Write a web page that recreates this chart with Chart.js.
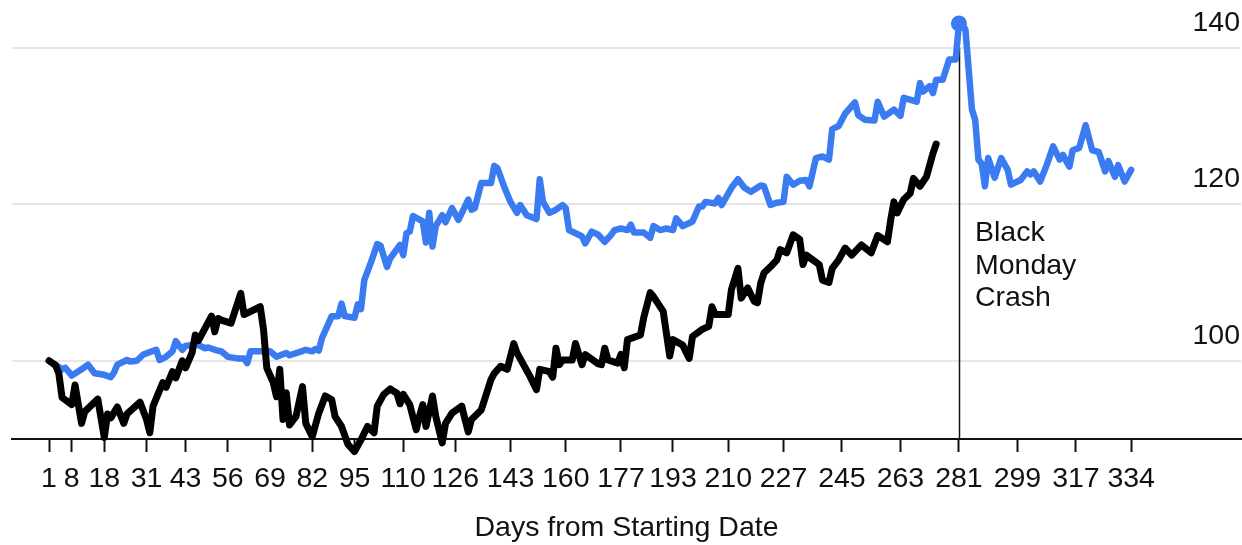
<!DOCTYPE html>
<html>
<head>
<meta charset="utf-8">
<script src="https://cdn.jsdelivr.net/npm/chart.js@4.4.0/dist/chart.umd.min.js"></script>
<style>
  html, body { margin: 0; padding: 0; background: #ffffff; }
  #wrap { width: 1242px; height: 545px; }
</style>
</head>
<body>
<div id="wrap"><canvas id="chart" width="1242" height="545"></canvas></div>
<script>
// Tick positions on the day axis and the reference levels on the index axis
const tickDays = [1, 8, 18, 31, 43, 56, 69, 82, 95, 110, 126, 143, 160, 177, 193, 210, 227, 245, 263, 281, 299, 317, 334];
const gridValues = [100, 120, 140];

// 1987 path (blue), indexed to 100 at the starting date
const blueDays = [1, 3, 5, 6, 8, 11, 13, 15, 18, 20, 21, 22, 25, 26, 28, 30, 32, 34, 35, 37, 39, 40, 42, 43, 45, 47, 49, 50, 52, 54, 56, 59, 61, 62, 63, 66, 69, 71, 74, 75, 78, 80, 82, 83, 84, 85, 88, 90, 91, 92, 95, 96, 97, 98, 100, 102, 103, 105, 106, 109, 110, 111, 112, 113, 116, 117, 118, 119, 120, 122, 123, 125, 127, 130, 131, 132, 134, 137, 138, 139, 141, 143, 145, 146, 148, 151, 152, 153, 155, 157, 159, 160, 161, 164, 165, 166, 168, 170, 172, 174, 175, 177, 179, 180, 181, 184, 186, 187, 189, 191, 193, 194, 196, 199, 201, 202, 203, 206, 207, 208, 211, 213, 215, 217, 220, 221, 223, 225, 227, 228, 230, 232, 234, 235, 237, 239, 241, 242, 244, 246, 249, 250, 252, 255, 256, 258, 261, 263, 264, 268, 269, 270, 272, 273, 274, 276, 278, 280, 281, 282, 283, 285, 286, 287, 288, 289, 290, 292, 294, 296, 297, 299, 300, 302, 303, 304, 306, 308, 310, 312, 313, 315, 316, 318, 320, 322, 324, 326, 327, 329, 330, 332, 334];
const blueValues = [100.0, 99.5, 98.9, 99.1, 98.1, 98.9, 99.5, 98.4, 98.2, 97.9, 98.5, 99.5, 100.1, 99.9, 100.0, 100.8, 101.1, 101.4, 100.1, 100.5, 101.2, 102.5, 101.4, 101.9, 102.0, 102.0, 101.6, 101.7, 101.4, 101.2, 100.5, 100.3, 100.3, 99.7, 101.2, 101.2, 101.2, 100.5, 101.0, 100.7, 101.1, 101.4, 101.2, 101.5, 101.3, 102.9, 105.7, 105.7, 107.3, 105.7, 105.5, 107.2, 106.6, 110.3, 112.5, 114.9, 114.7, 112.0, 113.1, 114.8, 113.5, 116.3, 116.5, 118.5, 117.8, 115.1, 118.9, 114.6, 117.2, 118.6, 117.7, 119.5, 118.0, 120.6, 119.3, 119.5, 122.7, 122.7, 124.9, 124.6, 122.3, 120.3, 118.9, 119.9, 118.6, 118.1, 123.2, 120.3, 118.9, 119.3, 119.9, 119.5, 116.7, 116.1, 115.9, 115.0, 116.5, 116.1, 115.2, 116.1, 116.7, 116.9, 116.7, 117.4, 116.4, 116.4, 115.7, 117.2, 116.7, 116.9, 116.7, 118.2, 117.2, 117.8, 119.7, 119.7, 120.3, 120.1, 120.8, 119.9, 122.1, 123.2, 122.1, 121.6, 122.4, 122.3, 119.9, 120.2, 120.3, 123.5, 122.5, 123.0, 123.1, 122.3, 125.9, 126.1, 125.7, 129.6, 130.0, 131.6, 133.0, 131.4, 130.8, 130.7, 133.1, 131.2, 132.1, 131.3, 133.6, 133.1, 135.5, 134.4, 135.1, 134.2, 135.9, 135.9, 138.5, 138.5, 143.1, 143.1, 142.3, 132.1, 130.8, 125.7, 125.2, 122.3, 125.9, 123.4, 125.9, 124.4, 122.5, 122.9, 123.1, 124.2, 123.8, 124.2, 122.9, 125.0, 127.4, 125.7, 126.3, 124.8, 126.9, 127.2, 130.1, 126.9, 126.7, 124.2, 125.5, 123.5, 125.0, 122.9, 124.4];

// Current path (black), indexed to 100 at the starting date
const blackDays = [1, 3, 4, 5, 8, 9, 11, 12, 16, 18, 19, 20, 22, 24, 25, 29, 31, 32, 33, 36, 37, 39, 40, 42, 43, 45, 46, 47, 51, 52, 53, 54, 57, 60, 61, 66, 67, 68, 70, 71, 72, 73, 74, 75, 77, 79, 80, 82, 84, 86, 88, 89, 91, 93, 95, 97, 99, 101, 102, 104, 106, 107, 108, 109, 110, 112, 114, 115, 116, 117, 119, 120, 122, 123, 125, 128, 129, 130, 131, 134, 135, 137, 138, 140, 142, 144, 145, 149, 151, 152, 155, 156, 157, 158, 159, 162, 163, 165, 166, 170, 171, 172, 173, 176, 177, 178, 179, 183, 184, 186, 187, 190, 192, 193, 196, 198, 199, 202, 204, 205, 206, 210, 211, 213, 214, 216, 218, 219, 220, 221, 223, 225, 226, 228, 230, 232, 233, 234, 236, 238, 239, 241, 242, 244, 246, 248, 251, 254, 256, 259, 260, 261, 262, 264, 266, 267, 269, 271, 272, 273, 274];
const blackValues = [100.0, 99.4, 98.4, 95.3, 94.4, 96.9, 92.0, 93.5, 95.1, 90.2, 93.2, 92.7, 94.1, 92.0, 93.2, 94.7, 92.5, 90.8, 94.2, 97.2, 96.6, 98.6, 97.8, 100.0, 99.1, 101.0, 103.3, 102.6, 105.7, 103.7, 105.4, 105.2, 104.8, 108.6, 105.9, 106.9, 104.0, 99.1, 97.2, 95.4, 98.9, 92.5, 95.9, 91.8, 92.9, 96.7, 92.0, 90.3, 93.3, 95.5, 95.0, 92.9, 91.6, 89.3, 88.4, 89.9, 91.6, 90.8, 94.2, 95.7, 96.4, 96.1, 95.9, 94.5, 95.7, 94.4, 91.2, 92.9, 94.4, 91.6, 95.5, 92.9, 89.5, 92.0, 93.3, 94.2, 92.5, 90.9, 92.5, 93.7, 95.0, 97.6, 98.4, 99.3, 98.9, 102.2, 101.0, 98.0, 96.3, 98.9, 98.6, 97.9, 101.6, 99.5, 100.1, 100.1, 102.2, 99.5, 100.8, 99.6, 99.5, 101.6, 100.1, 99.7, 100.8, 99.1, 102.7, 103.3, 105.5, 108.7, 108.2, 106.3, 100.6, 102.7, 102.0, 100.3, 103.1, 104.0, 104.4, 106.9, 105.9, 105.9, 109.1, 111.8, 108.0, 109.3, 107.6, 107.4, 109.9, 111.2, 112.0, 112.9, 114.2, 113.8, 116.1, 115.5, 112.3, 113.5, 112.9, 112.3, 110.3, 110.0, 111.8, 112.9, 114.4, 113.5, 114.8, 113.8, 116.0, 115.2, 118.0, 120.3, 118.9, 120.6, 121.4, 123.3, 122.3, 123.5, 125.0, 126.5, 127.7];

const peakDay = 281;
const crashDay = 281;
const crashLabel = ['Black', 'Monday', 'Crash'];
const axisTitle = 'Days from Starting Date';

const FONT = '"Liberation Sans", Arial, Helvetica, sans-serif';
const FONT_SIZE = 28.5;
const BLUE = '#3a7bf2';
const INK = '#111111';

function toPoints(days, values) {
  return days.map((d, i) => ({ x: d, y: values[i] }));
}

// Reference level labels sitting just above each gridline, plus the crash marker
const overlayPlugin = {
  id: 'overlay',
  beforeDatasetsDraw(chart) {
    const { ctx, scales: { x, y }, chartArea } = chart;
    const cx = Math.round(x.getPixelForValue(crashDay)) + 0.5;
    ctx.save();
    ctx.strokeStyle = INK;
    ctx.lineWidth = 1.5;
    ctx.beginPath();
    ctx.moveTo(cx, y.getPixelForValue(140));
    ctx.lineTo(cx, chartArea.bottom);
    ctx.stroke();
    ctx.restore();
  },
  afterDatasetsDraw(chart) {
    const { ctx, scales: { x, y }, chartArea } = chart;
    ctx.save();
    ctx.fillStyle = INK;
    ctx.font = FONT_SIZE + 'px ' + FONT;
    ctx.textAlign = 'right';
    ctx.textBaseline = 'middle';
    gridValues.forEach(v => {
      ctx.fillText(String(v), chartArea.right - 1, y.getPixelForValue(v) - 25);
    });
    ctx.textAlign = 'left';
    const tx = x.getPixelForValue(crashDay) + 16;
    const ty = y.getPixelForValue(120) + 29;
    crashLabel.forEach((line, i) => ctx.fillText(line, tx, ty + i * 32.5));
    ctx.restore();
  }
};

new Chart(document.getElementById('chart'), {
  type: 'line',
  data: {
    datasets: [
      {
        label: 'Current',
        data: toPoints(blackDays, blackValues),
        borderColor: '#000000',
        borderWidth: 7,
        pointRadius: 0,
        tension: 0,
        borderJoinStyle: 'round',
        borderCapStyle: 'round',
        clip: false,
        order: 0
      },
      {
        label: '1987',
        data: toPoints(blueDays, blueValues),
        borderColor: BLUE,
        backgroundColor: BLUE,
        borderWidth: 6.5,
        pointRadius: ctx => (blueDays[ctx.dataIndex] === peakDay ? 8 : 0),
        pointBackgroundColor: BLUE,
        pointBorderWidth: 0,
        tension: 0,
        borderJoinStyle: 'round',
        borderCapStyle: 'round',
        clip: false,
        order: 1
      }
    ]
  },
  options: {
    responsive: false,
    animation: false,
    events: [],
    layout: { padding: { left: 12, right: 1, top: 0, bottom: 0 } },
    plugins: { legend: { display: false }, tooltip: { enabled: false } },
    scales: {
      x: {
        type: 'linear',
        min: -10.4,
        max: 367.8,
        afterBuildTicks: s => { s.ticks = tickDays.map(v => ({ value: v })); },
        afterFit: s => { s.height = 106; },
        ticks: {
          autoSkip: false,
          maxRotation: 0,
          color: INK,
          padding: 10,
          font: { family: FONT, size: FONT_SIZE },
          callback: v => String(v)
        },
        grid: { drawOnChartArea: false, tickLength: 13, tickWidth: 2, tickColor: INK },
        border: { color: INK, width: 2 },
        title: {
          display: true,
          text: axisTitle,
          color: INK,
          font: { family: FONT, size: FONT_SIZE },
          padding: { top: 0, bottom: 0 }
        }
      },
      y: {
        type: 'linear',
        position: 'right',
        min: 90,
        max: 146.1,
        afterBuildTicks: s => { s.ticks = gridValues.map(v => ({ value: v })); },
        afterFit: s => { s.width = 0; },
        ticks: { display: false },
        grid: { color: '#e6e6e6', lineWidth: 2, drawTicks: false },
        border: { display: false }
      }
    }
  },
  plugins: [overlayPlugin]
});
</script>
</body>
</html>
